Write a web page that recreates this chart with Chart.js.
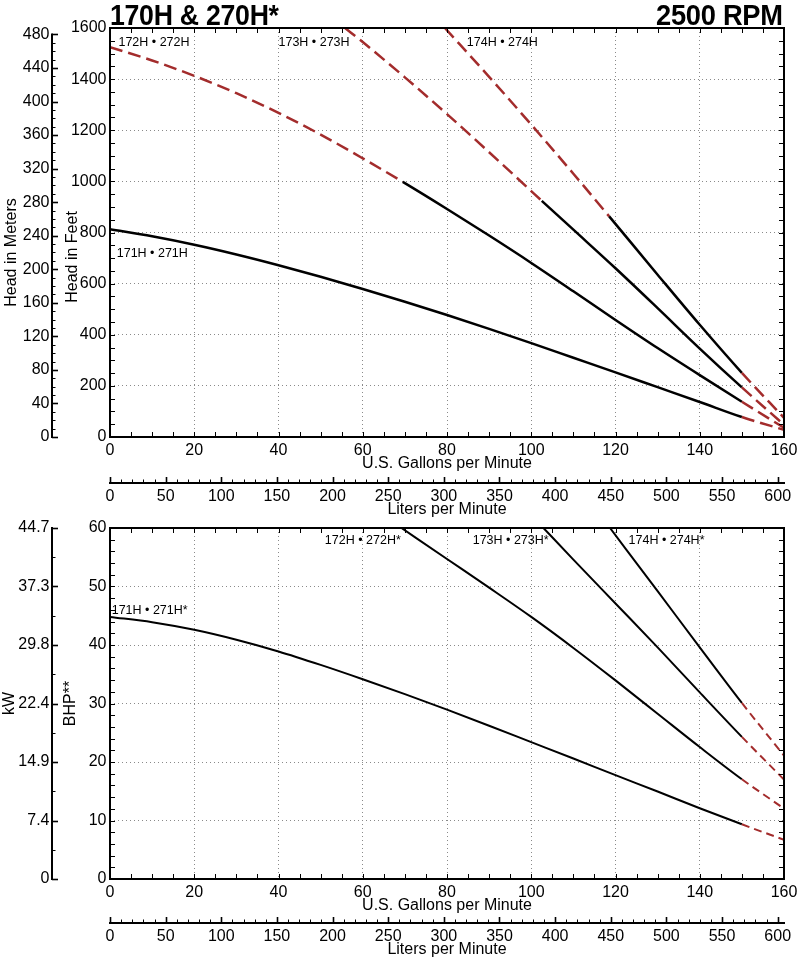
<!DOCTYPE html>
<html><head><meta charset="utf-8">
<script src="https://cdn.jsdelivr.net/npm/chart.js@4.4.1/dist/chart.umd.min.js"></script>
<style>
html,body{margin:0;padding:0;background:#fff;}
#wrap{position:relative;width:800px;height:961px;overflow:hidden;background:#fff;}
canvas{position:absolute;left:0;}
.ttl{position:absolute;top:1px;font:bold 29px 'Liberation Sans',Arial,sans-serif;line-height:29px;color:#000;white-space:nowrap;letter-spacing:-0.3px;}
</style></head><body>
<div id="wrap">
<canvas id="head" width="800" height="525" style="top:0"></canvas>
<canvas id="bhp" width="800" height="456" style="top:505px"></canvas>
<div class="ttl" style="left:110px;transform:scaleX(0.92);transform-origin:left top">170H &amp; 270H*</div>
<div class="ttl" style="right:17px;transform:scaleX(0.94);transform-origin:right top">2500 RPM</div>
</div>
<script>
// ---------- conversion factors ----------
const M_PER_FT = 0.3048;
const L_PER_GAL = 3.78541;
const KW_PER_HP = 0.7457;

// ---------- axis ranges / ticks ----------
const flowMax = 160, flowStep = 20, flowMinor = 5;
const headMax = 1600, headStep = 200, headMinor = 50;
const meterStep = 40, meterMinor = 10, meterTop = 480;
const literStep = 50, literMinor = 10;
const bhpMax = 60, bhpStep = 10, bhpMinor = 2;
const kwLabels = ['0', '7.4', '14.9', '22.4', '29.8', '37.3', '44.7'];

// ---------- head curves (feet) vs U.S. GPM ----------
const flow171 = [0,10,20,30,40,50,60,70,80,90,100,110,120,130,140,150,160];
const head171 = [813,785,752,714,672,627,579,529,477,423,367,310,253,195,137,78,28];
const flow172 = [0,10,20,30,40,50,60,69.5,80,90,100,110,120,130,140,150,160];
const head172 = [1525,1473,1413,1345,1268,1183,1090,998,892,788,681,570,458,348,242,138,36];
const flow173 = [55.8,60,70,80,90,100,102.5,110,120,130,140,150,160];
const head173 = [1600,1545,1407,1263,1114,962,924,811,660,504,346,194,48];
const flow174 = [79.5,90,100,110,118.5,130,140,150,160];
const head174 = [1600,1409,1222,1030,863,635,439,251,75];
// recommended (solid) operating ranges, GPM
const headSolid171 = [0,150];
const headSolid172 = [69.5,150];
const headSolid173 = [102.5,150];
const headSolid174 = [118.5,150];

// ---------- BHP curves vs U.S. GPM ----------
const bflow171 = [0,10,20,30,40,50,60,70,80,90,100,110,120,130,140,150,160];
const bhp171 = [44.8,43.9,42.6,40.9,38.9,36.6,34.15,31.6,28.95,26.2,23.4,20.6,17.75,14.95,12.1,9.35,6.7];
const bflow172 = [69.2,80,90,100,110,120,130,140,150,160];
const bhp172 = [60,54.7,49.8,44.8,39.5,33.95,28.25,22.55,17.05,12.05];
const bflow173 = [102.9,110,120,130,140,150,160];
const bhp173 = [60,54.6,47.1,39.6,31.9,24.3,17.0];
const bflow174 = [118.7,130,140,150,160];
const bhp174 = [60,49.2,39.6,30.1,21.1];
const bhpSolid171 = [0,150];
const bhpSolid172 = [69.2,150];
const bhpSolid173 = [102.9,150];
const bhpSolid174 = [118.7,150];

// ---------- curve labels ----------
const headNames = ['171H • 271H', '172H • 272H', '173H • 273H', '174H • 274H'];
const headNameAt = [[1.6,716],[2.0,1542],[40.0,1542],[84.7,1542]];
const bhpNames = ['171H • 271H*', '172H • 272H*', '173H • 273H*', '174H • 274H*'];
const bhpNameAt = [[0.4,45.9],[51.0,57.8],[86.1,57.8],[123.1,57.8]];

// ---------- styling ----------
const BLACK = '#000';
const RED = '#a32c2c';
const GRID = '#8a8a8a';
const FONT = "'Liberation Sans', Arial, Helvetica, sans-serif";
Chart.defaults.font.family = FONT;
Chart.defaults.font.size = 16;
Chart.defaults.color = '#000';

function outside(c, solid) {
  const x0 = c.p0.parsed.x, x1 = c.p1.parsed.x;
  return x1 <= solid[0] + 1e-9 || x0 >= solid[1] - 1e-9;
}
function series(flows, vals, solid, dash, width) {
  return {
    data: flows.map((f, i) => ({x: f, y: vals[i]})),
    borderColor: BLACK, borderWidth: width, pointRadius: 0, fill: false,
    tension: 0.4,
    cubicInterpolationMode: 'monotone',
    borderCapStyle: 'butt', borderJoinStyle: 'round',
    segment: {
      borderColor: c => outside(c, solid) ? RED : BLACK,
      borderDash: c => outside(c, solid) ? dash : []
    }
  };
}

function makeFrame(cfg) {
  return {
    id: 'frame',
    afterDraw(chart) {
      const {ctx, chartArea: a, scales} = chart;
      const xs = scales.x, ys = scales.y;
      ctx.save();
      ctx.strokeStyle = BLACK;
      ctx.setLineDash([]);
      // inward ticks on four sides of the plot box
      ctx.lineWidth = 1;
      ctx.beginPath();
      for (let v = xs.min; v <= xs.max + 1e-9; v += cfg.xMinor) {
        const p = Math.round(xs.getPixelForValue(v)) + 0.5;
        ctx.moveTo(p, a.bottom); ctx.lineTo(p, a.bottom - 5);
        ctx.moveTo(p, a.top); ctx.lineTo(p, a.top + 5);
      }
      for (let v = ys.min; v <= ys.max + 1e-9; v += cfg.yMinor) {
        const p = Math.round(ys.getPixelForValue(v)) + 0.5;
        ctx.moveTo(a.left, p); ctx.lineTo(a.left + 5, p);
        ctx.moveTo(a.right, p); ctx.lineTo(a.right - 5, p);
      }
      ctx.stroke();
      ctx.lineWidth = 2;
      ctx.strokeRect(a.left, a.top, a.right - a.left, a.bottom - a.top);
      // liters axis
      const xl = scales.xL, yl = xl.top;
      ctx.lineWidth = 2;
      ctx.beginPath(); ctx.moveTo(a.left - 1, yl); ctx.lineTo(a.right + 1, yl); ctx.stroke();
      for (let v = 0; v <= xl.max + 1e-9; v += literMinor) {
        const major = (Math.round(v) % literStep) === 0;
        const p = Math.round(xl.getPixelForValue(v)) + 0.5;
        ctx.lineWidth = major ? 1.6 : 1;
        ctx.beginPath(); ctx.moveTo(p, yl); ctx.lineTo(p, yl - (major ? 6 : 3.5)); ctx.stroke();
      }
      // secondary vertical axis (meters / kW)
      const ya = scales[cfg.alt], xa = ya.right;
      ctx.lineWidth = 2;
      ctx.beginPath();
      ctx.moveTo(xa, ya.getPixelForValue(0) + 1);
      ctx.lineTo(xa, ya.getPixelForValue(cfg.altTicks[cfg.altTicks.length - 1].v) - 1);
      ctx.stroke();
      cfg.altTicks.forEach(t => {
        const p = Math.round(ya.getPixelForValue(t.v)) + 0.5;
        ctx.lineWidth = t.major ? 1.6 : 1;
        ctx.beginPath(); ctx.moveTo(xa, p); ctx.lineTo(xa + (t.major ? 6 : 3.5), p); ctx.stroke();
      });
      ctx.restore();
    }
  };
}
function makeNotes(names, at) {
  return {
    id: 'notes',
    afterDatasetsDraw(chart) {
      const {ctx, scales: {x, y}} = chart;
      ctx.save();
      ctx.font = '12.5px ' + FONT;
      ctx.fillStyle = BLACK;
      ctx.textAlign = 'left';
      ctx.textBaseline = 'middle';
      names.forEach((n, i) => ctx.fillText(n, x.getPixelForValue(at[i][0]), y.getPixelForValue(at[i][1])));
      ctx.restore();
    }
  };
}

const numFmt = v => String(v);
function fixW(w) { return s => { s.width = w; s.paddingTop = 0; s.paddingBottom = 0; }; }
function fixH(h) { return s => { s.height = h; s.paddingLeft = 0; s.paddingRight = 0; }; }
const gridOpts = {color: GRID, lineWidth: 1, drawTicks: false};
const borderOpts = {display: false, dash: [1, 3]};
const fnt = {family: FONT, size: 16, lineHeight: 1};

// ---------- HEAD chart ----------
const meterTicks = [];
for (let m = 0; m <= meterTop; m += meterMinor) meterTicks.push({v: m, major: m % meterStep === 0});

new Chart(document.getElementById('head'), {
  type: 'line',
  data: {datasets: [
    series(flow171, head171, headSolid171, [13, 6], 2.5),
    series(flow172, head172, headSolid172, [13, 6], 2.5),
    series(flow173, head173, headSolid173, [13, 6], 2.5),
    series(flow174, head174, headSolid174, [13, 6], 2.5)
  ]},
  options: {
    responsive: false, animation: false, devicePixelRatio: 1,
    layout: {padding: {top: 28, right: 16, left: 0, bottom: 0}},
    plugins: {legend: {display: false}, tooltip: {enabled: false}},
    scales: {
      x: {type: 'linear', position: 'bottom', weight: 0, min: 0, max: flowMax,
        ticks: {stepSize: flowStep, padding: 5.5, maxRotation: 0, autoSkip: false, callback: numFmt, font: fnt},
        grid: gridOpts, border: borderOpts,
        title: {display: true, text: 'U.S. Gallons per Minute', font: fnt, padding: {top: 0, bottom: 11}},
        afterFit: fixH(46)},
      xL: {type: 'linear', position: 'bottom', weight: 1, min: 0, max: flowMax * L_PER_GAL,
        ticks: {stepSize: literStep, includeBounds: false, padding: 5.5, maxRotation: 0, autoSkip: false, callback: numFmt, font: fnt},
        grid: {display: false, drawTicks: false}, border: {display: false},
        title: {display: true, text: 'Liters per Minute', font: fnt, padding: {top: 0, bottom: 7}},
        afterFit: fixH(42)},
      y: {type: 'linear', position: 'left', weight: 0, min: 0, max: headMax,
        ticks: {stepSize: headStep, padding: 3.5, autoSkip: false, callback: numFmt, font: fnt},
        grid: gridOpts, border: borderOpts,
        title: {display: true, text: 'Head in Feet' + ' '.repeat(11), font: fnt, padding: {top: 12.8, bottom: 0}},
        afterFit: fixW(58)},
      yM: {type: 'linear', position: 'left', weight: 1, min: 0, max: headMax * M_PER_FT,
        ticks: {stepSize: meterStep, includeBounds: false, padding: 2.5, autoSkip: false, callback: numFmt, font: fnt},
        grid: {display: false, drawTicks: false}, border: {display: false},
        title: {display: true, text: 'Head in Meters' + ' '.repeat(9), font: fnt, padding: {top: 3.2, bottom: 0}},
        afterFit: fixW(52)}
    }
  },
  plugins: [makeFrame({xMinor: flowMinor, yMinor: headMinor, alt: 'yM', altTicks: meterTicks}), makeNotes(headNames, headNameAt)]
});

// ---------- BHP chart ----------
const kwTicks = [];
for (let b = 0; b <= bhpMax; b += bhpStep / 2) kwTicks.push({v: b * KW_PER_HP, major: b % bhpStep === 0});

new Chart(document.getElementById('bhp'), {
  type: 'line',
  data: {datasets: [
    series(bflow171, bhp171, bhpSolid171, [8, 5], 2),
    series(bflow172, bhp172, bhpSolid172, [8, 5], 2),
    series(bflow173, bhp173, bhpSolid173, [8, 5], 2),
    series(bflow174, bhp174, bhpSolid174, [8, 5], 2)
  ]},
  options: {
    responsive: false, animation: false, devicePixelRatio: 1,
    layout: {padding: {top: 23, right: 16, left: 0, bottom: 0}},
    plugins: {legend: {display: false}, tooltip: {enabled: false}},
    scales: {
      x: {type: 'linear', position: 'bottom', weight: 0, min: 0, max: flowMax,
        ticks: {stepSize: flowStep, padding: 5.5, maxRotation: 0, autoSkip: false, callback: numFmt, font: fnt},
        grid: gridOpts, border: borderOpts,
        title: {display: true, text: 'U.S. Gallons per Minute', font: fnt, padding: {top: 0, bottom: 9}},
        afterFit: fixH(44)},
      xL: {type: 'linear', position: 'bottom', weight: 1, min: 0, max: flowMax * L_PER_GAL,
        ticks: {stepSize: literStep, includeBounds: false, padding: 5.5, maxRotation: 0, autoSkip: false, callback: numFmt, font: fnt},
        grid: {display: false, drawTicks: false}, border: {display: false},
        title: {display: true, text: 'Liters per Minute', font: fnt, padding: {top: 0, bottom: 3}},
        afterFit: fixH(38)},
      y: {type: 'linear', position: 'left', weight: 0, min: 0, max: bhpMax,
        ticks: {stepSize: bhpStep, padding: 3.5, autoSkip: false, callback: numFmt, font: fnt},
        grid: gridOpts, border: borderOpts,
        title: {display: true, text: 'BHP**', font: fnt, padding: {top: 11, bottom: 0}},
        afterFit: fixW(58)},
      yK: {type: 'linear', position: 'left', weight: 1, min: 0, max: bhpMax * KW_PER_HP,
        afterBuildTicks: s => { s.ticks = kwLabels.map((_, i) => ({value: i * bhpStep * KW_PER_HP})); },
        ticks: {padding: 2.5, autoSkip: false, font: fnt, callback: (v, i) => kwLabels[i]},
        grid: {display: false, drawTicks: false}, border: {display: false},
        title: {display: true, text: 'kW', font: fnt, padding: {top: 1.5, bottom: 0}},
        afterFit: fixW(52)}
    }
  },
  plugins: [makeFrame({xMinor: flowMinor, yMinor: bhpMinor, alt: 'yK', altTicks: kwTicks}), makeNotes(bhpNames, bhpNameAt)]
});
</script>
</body></html>
